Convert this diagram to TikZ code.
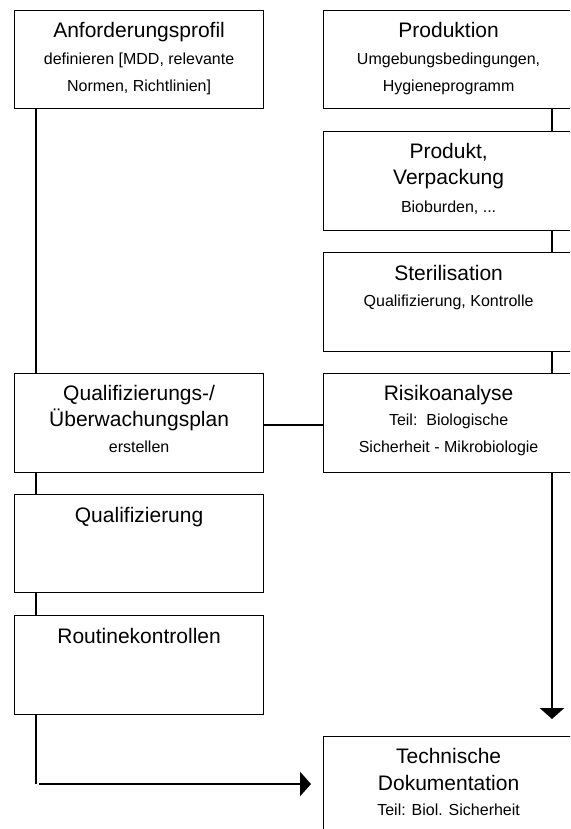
\documentclass[tikz,border=0pt]{standalone}
\usepackage{fontspec}
\setmainfont{Liberation Sans}
\usetikzlibrary{arrows.meta}
\begin{document}
\begin{tikzpicture}[x=1pt,y=-1pt,
  box/.style={draw=black, line width=1.2pt, rectangle, inner sep=0pt, anchor=north west, minimum width=#1},
  lbox/.style={box=249pt},
  rbox/.style={box=250pt},
  ttl/.style={anchor=base, inner sep=0pt, font=\fontsize{21}{21}\selectfont},
  sub/.style={anchor=base, inner sep=0pt, font=\fontsize{16}{16}\selectfont},
  conn/.style={draw=black, line width=2.8pt},
  tip/.style={-{Triangle[length=11pt,width=24pt]}}
]
\useasboundingbox (0,0) rectangle (570,829);
\clip (0,0) rectangle (570,829);
% columns
\coordinate (L) at (36,0);
\coordinate (Rc) at (552,0);
% left boxes
\node[lbox, minimum height=98pt] (A) at (14,10) {};
\node[lbox, minimum height=99pt] (Q) at (14,373) {};
\node[lbox, minimum height=98pt] (Qz) at (14,494) {};
\node[lbox, minimum height=99pt] (R) at (14,615) {};
% right boxes
\node[rbox, minimum height=98pt] (P) at (323,10) {};
\node[rbox, minimum height=99pt] (Pk) at (323,131) {};
\node[rbox, minimum height=99pt] (S) at (323,252) {};
\node[rbox, minimum height=99pt] (Ri) at (323,373) {};
\node[rbox, minimum height=130pt] (T) at (323,736) {};
% texts
\path (A.north) ++(0,28) node[ttl] (A1) {Anforderungsprofil};
\path (A.north) ++(0,55) node[sub] (A2) {definieren [MDD, relevante};
\path (A.north) ++(0,82) node[sub] (A3) {Normen, Richtlinien]};
\path (P.north) ++(0,28) node[ttl] (P1) {Produktion};
\path (P.north) ++(0,55) node[sub] (P2) {Umgebungsbedingungen,};
\path (P.north) ++(0,82) node[sub] (P3) {Hygieneprogramm};
\path (Pk.north) ++(0,28) node[ttl] (Pk1) {Produkt,};
\path (Pk.north) ++(0,53) node[ttl] (Pk2) {Verpackung};
\path (Pk.north) ++(0,81) node[sub] (Pk3) {Bioburden, ...};
\path (S.north) ++(0,28) node[ttl] (S1) {Sterilisation};
\path (S.north) ++(0,54) node[sub] (S2) {Qualifizierung, Kontrolle};
\path (Q.north) ++(0,27) node[ttl] (Q1) {Qualifizierungs-/};
\path (Q.north) ++(0,53) node[ttl] (Q2) {Überwachungsplan};
\path (Q.north) ++(0,79) node[sub] (Q3) {erstellen};
\path (Ri.north) ++(0,27) node[ttl] (Ri1) {Risikoanalyse};
\path (Ri.north) ++(0,52) node[sub] (Ri2) {Teil:\ \ Biologische};
\path (Ri.north) ++(0,79) node[sub] (Ri3) {Sicherheit - Mikrobiologie};
\path (Qz.north) ++(0,28) node[ttl] (Qz1) {Qualifizierung};
\path (R.north) ++(0,28) node[ttl] (R1) {Routinekontrollen};
\path (T.north) ++(0,27) node[ttl] (T1) {Technische};
\path (T.north) ++(0,54) node[ttl] (T2) {Dokumentation};
\path (T.north) ++(0,79) node[sub] (T3) {Teil: Biol. Sicherheit};
% left connectors
\draw[conn] (A.south -| L) -- (Q.north -| L);
\draw[conn] (Q.south -| L) -- (Qz.north -| L);
\draw[conn] (Qz.south -| L) -- (R.north -| L);
\coordinate (corner) at (36,784);
\draw[conn] (R.south -| L) -- (corner);
\draw[conn, tip, shorten <=3pt, shorten >=12pt] (corner) -- (corner -| T.west);
% right connectors
\draw[conn] (P.south -| Rc) -- (Pk.north -| Rc);
\draw[conn] (Pk.south -| Rc) -- (S.north -| Rc);
\draw[conn] (S.south -| Rc) -- (Ri.north -| Rc);
\draw[conn, tip, shorten >=17pt] (Ri.south -| Rc) -- (T.north -| Rc);
% cross connector
\coordinate (m) at (0,425);
\draw[conn] (Q.east |- m) -- (Ri.west |- m);
\end{tikzpicture}
\end{document}
